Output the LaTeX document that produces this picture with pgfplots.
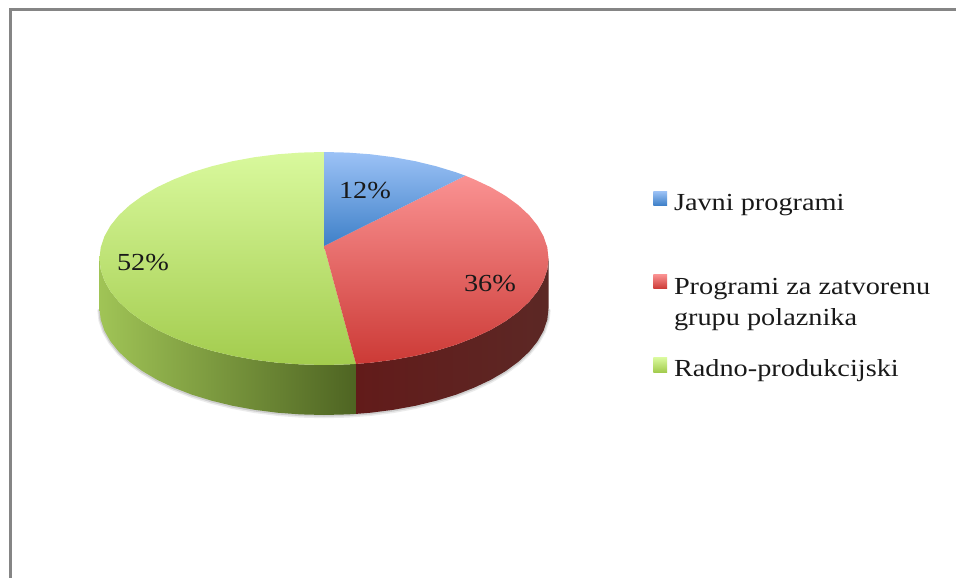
\documentclass[border=0pt]{standalone}
\usepackage{pgfplots}
\pgfplotsset{compat=1.18}
\usepackage{fontspec}
\setmainfont[FakeStretch=1.155]{Liberation Serif}
\definecolor{frameg}{HTML}{858585}
\newcommand{\chartfont}{\fontsize{24.5}{32}\selectfont}
\tikzset{lab/.style={anchor=base west, font=\chartfont, text=black!90, inner sep=0pt, outer sep=0pt}}
\begin{document}
\begin{tikzpicture}
\begin{axis}[
  scale only axis, width=956pt, height=578pt,
  xmin=0, xmax=956, ymin=0, ymax=578, y dir=reverse,
  hide axis, clip=true,
]
% page
\addplot[draw=none, fill=white] coordinates {(0,0)(956,0)(956,578)(0,578)} --cycle;
% frame
\addplot[frameg, line width=2.6pt] coordinates {(10.5,578)(10.5,9.5)(956,9.5)};

% soft shadow of the disc side
\addplot[black, opacity=.08, line width=4.5pt, yshift=-1pt] coordinates {(99.5,308.5)(100.7,319.6)(104.4,330.6)(110.5,341.4)(118.9,351.8)(129.6,361.75)(142.4,371.1)(157.2,379.8)(173.8,387.6)(192,394.7)(211.7,400.7)(232.7,405.8)(254.6,409.8)(277.3,412.7)(300.5,414.4)(324,415)(347.5,414.4)(370.7,412.7)(393.4,409.8)(415.3,405.8)(436.3,400.7)(456,394.7)(474.2,387.6)(490.8,379.8)(505.6,371.1)(518.4,361.75)(529.1,351.8)(537.5,341.4)(543.6,330.6)(547.3,319.6)(548.5,308.5)};
\addplot[black, opacity=.12, line width=2.5pt, yshift=-.5pt] coordinates {(99.5,308.5)(100.7,319.6)(104.4,330.6)(110.5,341.4)(118.9,351.8)(129.6,361.75)(142.4,371.1)(157.2,379.8)(173.8,387.6)(192,394.7)(211.7,400.7)(232.7,405.8)(254.6,409.8)(277.3,412.7)(300.5,414.4)(324,415)(347.5,414.4)(370.7,412.7)(393.4,409.8)(415.3,405.8)(436.3,400.7)(456,394.7)(474.2,387.6)(490.8,379.8)(505.6,371.1)(518.4,361.75)(529.1,351.8)(537.5,341.4)(543.6,330.6)(547.3,319.6)(548.5,308.5)};

% side, green
\addplot[draw=none, left color={rgb,255:red,160;green,196;blue,86}, right color={rgb,255:red,78;green,100;blue,34}] coordinates {
(99.5,258.5)(100.7,269.6)(104.4,280.6)(110.5,291.4)(118.9,301.8)(129.6,311.75)(142.4,321.1)(157.2,329.8)(173.8,337.6)(192,344.7)(211.7,350.7)(232.7,355.8)(254.6,359.8)(277.3,362.7)(300.5,364.4)(324,365)(347.5,364.4)(356,363.9)
(356,413.9)(347.5,414.4)(324,415)(300.5,414.4)(277.3,412.7)(254.6,409.8)(232.7,405.8)(211.7,400.7)(192,394.7)(173.8,387.6)(157.2,379.8)(142.4,371.1)(129.6,361.75)(118.9,351.8)(110.5,341.4)(104.4,330.6)(100.7,319.6)(99.5,308.5)} --cycle;
% side, red
\addplot[draw=none, left color={rgb,255:red,98;green,27;blue,26}, middle color={rgb,255:red,80;green,28;blue,25}, right color={rgb,255:red,92;green,40;blue,37}] coordinates {
(356,363.9)(370.7,362.7)(393.4,359.8)(415.3,355.8)(436.3,350.7)(456,344.7)(474.2,337.6)(490.8,329.8)(505.6,321.1)(518.4,311.75)(529.1,301.8)(537.5,291.4)(543.6,280.6)(547.3,269.6)(548.5,258.5)
(548.5,308.5)(547.3,319.6)(543.6,330.6)(537.5,341.4)(529.1,351.8)(518.4,361.75)(505.6,371.1)(490.8,379.8)(474.2,387.6)(456,394.7)(436.3,400.7)(415.3,405.8)(393.4,409.8)(370.7,412.7)(356,413.9)} --cycle;

% 52% wedge, Radno-produkcijski
\addplot[draw=none, top color={rgb,255:red,217;green,249;blue,157}, bottom color={rgb,255:red,163;green,204;blue,78}] coordinates {
(324,246)(356,363.9)(347.5,364.4)(324,365)(300.5,364.4)(277.3,362.7)(254.6,359.8)(232.7,355.8)(211.7,350.7)(192,344.7)(173.8,337.6)(157.2,329.8)(142.4,321.1)(129.6,311.75)(118.9,301.8)(110.5,291.4)(104.4,280.6)(100.7,269.6)(99.5,258.5)(100.7,247.4)(104.4,236.4)(110.5,225.6)(118.9,215.2)(129.6,205.25)(142.4,195.9)(157.2,187.2)(173.8,179.4)(192,172.3)(211.7,166.3)(232.7,161.2)(254.6,157.2)(277.3,154.3)(300.5,152.6)(324,152)} --cycle;
% 36% wedge, Programi za zatvorenu grupu polaznika
\addplot[draw=none, top color={rgb,255:red,250;green,146;blue,146}, bottom color={rgb,255:red,204;green,58;blue,54}] coordinates {
(324,246)(465.3,175.7)(474.2,179.4)(490.8,187.2)(505.6,195.9)(518.4,205.25)(529.1,215.2)(537.5,225.6)(543.6,236.4)(547.3,247.4)(548.5,258.5)(547.3,269.6)(543.6,280.6)(537.5,291.4)(529.1,301.8)(518.4,311.75)(505.6,321.1)(490.8,329.8)(474.2,337.6)(456,344.7)(436.3,350.7)(415.3,355.8)(393.4,359.8)(370.7,362.7)(356,363.9)} --cycle;
% 12% wedge, Javni programi
\addplot[draw=none, top color={rgb,255:red,156;green,194;blue,246}, bottom color={rgb,255:red,62;green,128;blue,200}] coordinates {
(324,246)(324,152)(347.5,152.6)(370.7,154.3)(393.4,157.2)(415.3,161.2)(436.3,166.3)(456,172.3)(465.3,175.7)} --cycle;

% data labels
\node[lab] at (axis cs:339,198) {12\%};
\node[lab] at (axis cs:464,291.7) {36\%};
\node[lab] at (axis cs:117,270.7) {52\%};

% legend
\addplot[draw=none, top color={rgb,255:red,156;green,194;blue,246}, bottom color={rgb,255:red,62;green,128;blue,200}] coordinates {(653.3,191.3)(667,191.3)(667,205.3)(653.3,205.3)} --cycle;
\addplot[draw=none, top color={rgb,255:red,250;green,146;blue,146}, bottom color={rgb,255:red,204;green,58;blue,54}] coordinates {(653.3,274.3)(667,274.3)(667,288.7)(653.3,288.7)} --cycle;
\addplot[draw=none, top color={rgb,255:red,217;green,249;blue,157}, bottom color={rgb,255:red,163;green,204;blue,78}] coordinates {(653.3,357.7)(667,357.7)(667,372)(653.3,372)} --cycle;
\node[lab] at (axis cs:674,210.7) {Javni programi};
\node[lab] at (axis cs:674,294) {Programi za zatvorenu};
\node[lab] at (axis cs:674,325.7) {grupu polaznika};
\node[lab] at (axis cs:674,376.7) {Radno-produkcijski};
\end{axis}
\end{tikzpicture}
\end{document}
